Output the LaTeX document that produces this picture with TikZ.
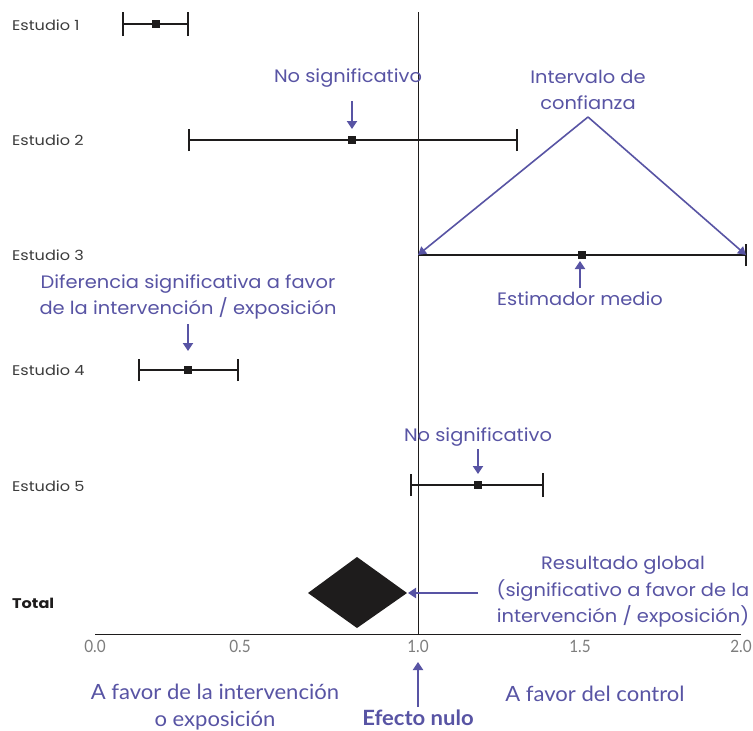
\documentclass[tikz,border=0pt]{standalone}
\usepackage{fontspec}
\setmainfont{Poppins}
\newfontfamily\annfont[FakeStretch=1.08]{Poppins}
\newfontfamily\studyfont[FakeStretch=1.15]{Poppins}
\newfontfamily\condfont[FakeStretch=0.9]{Lato}
\newfontfamily\botfont[FakeStretch=1.05]{Lato}
\usetikzlibrary{arrows.meta}
\definecolor{anno}{RGB}{88,84,164}
\definecolor{ink}{RGB}{30,28,28}
\definecolor{lbl}{RGB}{60,60,60}
\definecolor{axlbl}{RGB}{125,125,125}
\tikzset{
  study/.style={anchor=west, font=\studyfont\fontsize{14}{16}\selectfont, text=lbl, inner sep=0pt},
  annot/.style={font=\annfont\fontsize{18}{26.5}\selectfont, text=anno, align=center, inner sep=0pt},
  condl/.style={font=\botfont\fontsize{21}{27}\selectfont, text=anno, align=center, inner sep=0pt},
  axl/.style={font=\condfont\fontsize{17}{19}\selectfont, text=axlbl, inner sep=0pt},
  ci/.style={draw=ink, line width=1.1pt},
  ticker/.style={draw=ink, line width=1.4pt},
  pt/.style={fill=ink, minimum size=8pt, inner sep=0pt},
  aarrow/.style={draw=anno, line width=2pt, -{Triangle[width=10pt,length=8pt]}},
  tarrow/.style={draw=anno, line width=1.6pt, -{Triangle[width=9pt,length=8pt]}}
}
\begin{document}
\begin{tikzpicture}[x=1pt,y=-1pt]
\useasboundingbox (0,0) rectangle (753,731);
\fill[white] (0,0) rectangle (753,731);
% axis
\coordinate (ax0) at (95,634);
\coordinate (ax2) at (741,634);
\coordinate (vtop) at (418,12);
\coordinate (vbot) at (418,634);
\draw[ink, line width=0.9pt] (ax0) -- (ax2);
\draw[ink, line width=0.9pt] (vtop) -- (vbot);
\node[axl] (t0) at (95,646) {0.0};
\node[axl] (t05) at (240,646) {0.5};
\node[axl] (t1) at (418,646) {1.0};
\node[axl] (t15) at (580,646) {1.5};
\node[axl] (t2) at (741,646) {2.0};
% studies
\node[study] (s1) at (12,25) {Estudio 1};
\node[study] (s2) at (12,140) {Estudio 2};
\node[study] (s3) at (12,255) {Estudio 3};
\node[study] (s4) at (12,370) {Estudio 4};
\node[study] (s5) at (12,486) {Estudio 5};
\node[study, font=\studyfont\bfseries\fontsize{14}{16}\selectfont, text=ink] (st) at (12,603) {Total};
% study 1
\coordinate (a1) at (123,24); \coordinate (b1) at (188,24);
\draw[ci] (a1) -- (b1);
\draw[ticker] ([yshift=-12pt]a1) -- ([yshift=12pt]a1);
\draw[ticker] ([yshift=-12pt]b1) -- ([yshift=12pt]b1);
\node[pt] (p1) at (156,24) {};
% study 2
\coordinate (a2) at (189,140); \coordinate (b2) at (517,140);
\draw[ci] (a2) -- (b2);
\draw[ticker] ([yshift=-11pt]a2) -- ([yshift=11pt]a2);
\draw[ticker] ([yshift=-11pt]b2) -- ([yshift=11pt]b2);
\node[pt] (p2) at (352,140) {};
% study 3
\coordinate (a3) at (418,255); \coordinate (b3) at (746,255);
\draw[ci] (a3) -- (b3);
\draw[ticker] ([yshift=-11pt]b3) -- ([yshift=11pt]b3);
\node[pt] (p3) at (582,255) {};
% study 4
\coordinate (a4) at (139,370); \coordinate (b4) at (238,370);
\draw[ci] (a4) -- (b4);
\draw[ci] ([yshift=-11pt]a4) -- ([yshift=11pt]a4);
\draw[ci] ([yshift=-11pt]b4) -- ([yshift=11pt]b4);
\node[pt] (p4) at (188,370) {};
% study 5
\coordinate (a5) at (411,485); \coordinate (b5) at (543,485);
\draw[ci] (a5) -- (b5);
\draw[ci] ([yshift=-11pt]a5) -- ([yshift=11pt]a5);
\draw[ticker] ([yshift=-12pt]b5) -- ([yshift=12pt]b5);
\node[pt] (p5) at (478,485) {};
% total diamond
\fill[ink] (308,593) -- (357,557) -- (407,593) -- (357,628) -- cycle;
\coordinate (dright) at (408,593);
% annotations
\node[annot] (ns1) at (348,78) {No significativo};
\coordinate (ns1a) at (352,101);
\draw[aarrow] (ns1a) -- (352,129);
\node[annot] (ic) at (588,90) {Intervalo de\\confianza};
\coordinate (apex) at (588,117);
\draw[tarrow] (apex) -- (a3);
\draw[tarrow] (apex) -- (b3);
\node[annot] (em) at (580,299) {Estimador medio};
\draw[aarrow] (580,288) -- (580,261);
\node[annot] (dif) at (188,297) {Diferencia significativa a favor\\de la intervención / exposición};
\draw[aarrow] (188,324) -- (188,351);
\node[annot] (ns2) at (478,437) {No significativo};
\draw[aarrow] (478,449) -- (478,474);
\node[annot] (rg) at (623,592) {Resultado global\\(significativo a favor de la\\intervención / exposición)};
\coordinate (rga) at (478,593);
\draw[aarrow] (rga) -- (dright);
% bottom labels
\node[condl] (fi) at (215,707) {A favor de la intervención\\o exposición};
\node[condl] (fc) at (595,694) {A favor del control};
\node[condl, font=\botfont\bfseries\fontsize{21}{24}\selectfont] (en) at (418,718) {Efecto nulo};
\draw[aarrow] (418,707) -- (418,662);
\end{tikzpicture}
\end{document}
